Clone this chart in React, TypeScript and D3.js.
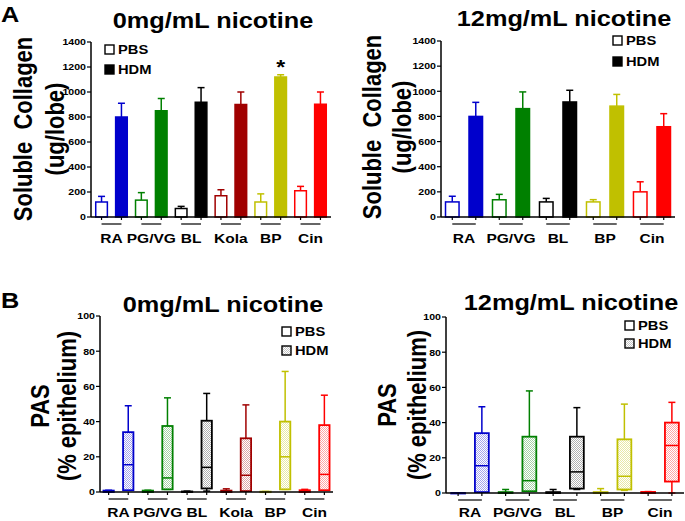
import React from "react";
import * as d3 from "d3";

// ---------- DATA ----------
const catsA1 = ["RA", "PG/VG", "BL", "Kola", "BP", "Cin"];
const colorsA1 = ["#0000CC", "#008000", "#000000", "#A00000", "#C0C000", "#FF0000"];
const pbsA1 = [120, 135, 68, 170, 120, 210];
const pbsErrA1 = [45, 60, 17, 48, 65, 35];
const hdmA1 = [800, 850, 918, 900, 1120, 902];
const hdmErrA1 = [110, 98, 117, 100, 18, 98];

const catsA2 = ["RA", "PG/VG", "BL", "BP", "Cin"];
const colorsA2 = ["#0000CC", "#008000", "#000000", "#C0C000", "#FF0000"];
const pbsA2 = [120, 137, 120, 120, 200];
const pbsErrA2 = [45, 43, 28, 18, 80];
const hdmA2 = [800, 862, 915, 882, 718];
const hdmErrA2 = [112, 133, 93, 93, 104];

const ticksA = [0, 200, 400, 600, 800, 1000, 1200, 1400];
const ticksB = [0, 20, 40, 60, 80, 100];

// box stats: [min, q1, median, q3, max]
const pbsB1 = [
  [0, 0, 0.3, 0.8, 1],
  [0, 0, 0.3, 0.8, 1],
  [0, 0, 0, 0.3, 0.5],
  [0, 0, 0.3, 0.8, 1.8],
  [0, 0, 0, 0.2, 0.3],
  [0, 0, 0.5, 1, 1.5],
];
const hdmB1 = [
  [1, 1, 15.5, 34, 49],
  [1.5, 1.5, 8, 37.5, 53.5],
  [0.5, 2, 14, 40.5, 56],
  [0.5, 0.5, 9.5, 30.5, 49.5],
  [1.5, 1.5, 20, 40, 68.5],
  [1, 1, 10, 38, 55],
];
const pbsB2 = [
  [0, 0, 0, 0, 0],
  [0, 0, 0.2, 0.5, 2],
  [0, 0, 0.2, 0.5, 2],
  [0, 0, 0.2, 0.5, 2.5],
  [0, 0, 0.3, 0.6, 0.8],
];
const hdmB2 = [
  [0.5, 0.5, 15.5, 34, 49],
  [1, 1, 7, 32, 58],
  [2, 2.5, 12, 32, 48.5],
  [1.5, 2, 9.5, 30.5, 50.5],
  [0, 6.5, 27, 40, 51.5],
];

const FONT = "'Liberation Sans', Arial, Helvetica, sans-serif";
const SX = 1.15;

function T({ x, y, size, anchor = "start", rot = false, baseline, children, fill = "#000" }: any) {
  return (
    <g transform={`translate(${x},${y}) scale(${SX},1)`}>
      <text
        transform={rot ? "rotate(-90)" : undefined}
        fontSize={size}
        fontWeight="bold"
        fontFamily={FONT}
        textAnchor={anchor}
        dominantBaseline={baseline}
        fill={fill}
        style={{ whiteSpace: "pre" }}
      >
        {children}
      </text>
    </g>
  );
}

function patId(c: string) {
  return "pat" + c.replace("#", "");
}

function Axes({ ax, xEnd, y, ticks, cats, xb, keysP, keysH, labDy }: any) {
  const y0 = y(0);
  return (
    <g>
      <line x1={ax} x2={ax} y1={y(ticks[ticks.length - 1])} y2={y0} stroke="#000" strokeWidth={1.5} />
      <line x1={ax} x2={xEnd} y1={y0} y2={y0} stroke="#000" strokeWidth={1.5} />
      {ticks.map((t: number) => (
        <g key={t}>
          <line x1={ax - 4} x2={ax} y1={y(t)} y2={y(t)} stroke="#000" strokeWidth={1.2} />
          <T x={ax - 5} y={y(t) + 3.3} size={9.2} anchor="end">{t}</T>
        </g>
      ))}
      {cats.map((c: string, i: number) => {
        const xp = xb(keysP[i]) + xb.bandwidth() / 2;
        const xh = xb(keysH[i]) + xb.bandwidth() / 2;
        return (
          <g key={c}>
            <line x1={xp} x2={xp} y1={y0} y2={y0 + 3} stroke="#000" strokeWidth={1.2} />
            <line x1={xh} x2={xh} y1={y0} y2={y0 + 3} stroke="#000" strokeWidth={1.2} />
            <line x1={xp} x2={xh} y1={y0 + 7} y2={y0 + 7} stroke="#000" strokeWidth={1.2} />
            <T x={(xp + xh) / 2} y={y0 + labDy} size={13.5} anchor="middle">{c}</T>
          </g>
        );
      })}
    </g>
  );
}

function BarPanel({ ax, xEnd, yTop, y0, cats, colors, pbs, pbsErr, hdm, hdmErr, pi, po, star }: any) {
  const y = d3.scaleLinear().domain([0, 1400]).range([y0, yTop]);
  const keysP = cats.map((c: string) => c + "_P");
  const keysH = cats.map((c: string) => c + "_H");
  const keys: string[] = [];
  cats.forEach((_: any, i: number) => keys.push(keysP[i], keysH[i]));
  const xb = d3.scaleBand().domain(keys).range([ax, xEnd]).paddingInner(pi).paddingOuter(po);
  const bw = xb.bandwidth();
  const bar = (k: string, v: number, e: number, col: string, filled: boolean) => {
    const x = xb(k)!;
    const cx = x + bw / 2;
    return (
      <g key={k}>
        <line x1={cx} x2={cx} y1={y(v)} y2={y(v + e)} stroke={col} strokeWidth={1.5} />
        <line x1={cx - 3.5} x2={cx + 3.5} y1={y(v + e)} y2={y(v + e)} stroke={col} strokeWidth={1.5} />
        <rect
          x={x + 0.75}
          y={y(v)}
          width={bw - 1.5}
          height={y0 - y(v)}
          fill={filled ? col : "#fff"}
          stroke={col}
          strokeWidth={1.5}
        />
      </g>
    );
  };
  return (
    <g>
      {cats.map((c: string, i: number) => (
        <g key={c}>
          {bar(keysP[i], pbs[i], pbsErr[i], colors[i], false)}
          {bar(keysH[i], hdm[i], hdmErr[i], colors[i], true)}
        </g>
      ))}
      {star !== undefined && (
        <T
          x={xb(keysH[star])! + bw / 2}
          y={y(hdm[star] + hdmErr[star]) - 1}
          size={20}
          anchor="middle"
        >
          *
        </T>
      )}
      <Axes ax={ax} xEnd={xEnd} y={y} ticks={ticksA} cats={cats} xb={xb} keysP={keysP} keysH={keysH} labDy={26} />
    </g>
  );
}

function BoxPanel({ ax, xEnd, yTop, y0, cats, colors, pbs, hdm, pi, po, labDy }: any) {
  const y = d3.scaleLinear().domain([0, 100]).range([y0, yTop]);
  const keysP = cats.map((c: string) => c + "_P");
  const keysH = cats.map((c: string) => c + "_H");
  const keys: string[] = [];
  cats.forEach((_: any, i: number) => keys.push(keysP[i], keysH[i]));
  const xb = d3.scaleBand().domain(keys).range([ax, xEnd]).paddingInner(pi).paddingOuter(po);
  const bw = xb.bandwidth();
  const box = (k: string, s: number[], col: string, filled: boolean) => {
    const x = xb(k)!;
    const cx = x + bw / 2;
    const [mn, q1, md, q3, mx] = s;
    return (
      <g key={k}>
        <line x1={cx} x2={cx} y1={y(q3)} y2={y(mx)} stroke={col} strokeWidth={1.5} />
        <line x1={cx} x2={cx} y1={y(q1)} y2={y(mn)} stroke={col} strokeWidth={1.5} />
        <line x1={cx - 3.5} x2={cx + 3.5} y1={y(mx)} y2={y(mx)} stroke={col} strokeWidth={1.5} />
        <line x1={cx - 3.5} x2={cx + 3.5} y1={y(mn)} y2={y(mn)} stroke={col} strokeWidth={1.5} />
        <rect
          x={x + 0.9}
          y={y(q3)}
          width={bw - 1.8}
          height={Math.max(0.5, y(q1) - y(q3))}
          fill={filled ? `url(#${patId(col)})` : "#fff"}
          stroke={col}
          strokeWidth={1.8}
        />
        <line x1={x + 0.9} x2={x + bw - 0.9} y1={y(md)} y2={y(md)} stroke={col} strokeWidth={1.5} />
      </g>
    );
  };
  return (
    <g>
      {cats.map((c: string, i: number) => (
        <g key={c}>
          {box(keysP[i], pbs[i], colors[i], false)}
          {box(keysH[i], hdm[i], colors[i], true)}
        </g>
      ))}
      <Axes ax={ax} xEnd={xEnd} y={y} ticks={ticksB} cats={cats} xb={xb} keysP={keysP} keysH={keysH} labDy={labDy} />
    </g>
  );
}

function Legend({ x, y1, y2, hdmFill }: any) {
  return (
    <g>
      <rect x={x} y={y1} width={9} height={9} fill="#fff" stroke="#000" strokeWidth={1.4} />
      <T x={x + 13} y={y1 + 9} size={12.8}>PBS</T>
      <rect x={x} y={y2} width={9} height={9} fill={hdmFill} stroke="#000" strokeWidth={1.4} />
      <T x={x + 13} y={y2 + 9} size={12.8}>HDM</T>
    </g>
  );
}

export default function App() {
  const patColors = Array.from(new Set([...colorsA1, "#555555"]));
  return (
    <svg
      width={685}
      height={521}
      style={{ position: "absolute", left: 0, top: 0, background: "#fff" }}
    >
      <defs>
        {patColors.map((c) => (
          <pattern key={c} id={patId(c)} width={2} height={2} patternUnits="userSpaceOnUse">
            <rect width={2} height={2} fill="#fff" />
            <rect width={1} height={1} fill={c} opacity={c === "#000000" ? 0.3 : 0.35} />
            <rect x={1} y={1} width={1} height={1} fill={c} opacity={c === "#000000" ? 0.3 : 0.35} />
          </pattern>
        ))}
      </defs>
      <rect width={685} height={521} fill="#fff" />

      {/* Panel labels */}
      <T x={1} y={22} size={22}>A</T>
      <T x={1} y={308} size={22}>B</T>

      {/* Titles */}
      <T x={213} y={28} size={22} anchor="middle">0mg/mL nicotine</T>
      <T x={564} y={26} size={22} anchor="middle">12mg/mL nicotine</T>
      <T x={223} y={312} size={22} anchor="middle">0mg/mL nicotine</T>
      <T x={571} y={310} size={22} anchor="middle">12mg/mL nicotine</T>

      {/* Y titles */}
      <T x={23} y={129} size={22} anchor="middle" rot baseline="central">Soluble  Collagen</T>
      <T x={55} y={129} size={22} anchor="middle" rot baseline="central">(ug/lobe)</T>
      <T x={372} y={127} size={22} anchor="middle" rot baseline="central">Soluble  Collagen</T>
      <T x={402} y={127} size={22} anchor="middle" rot baseline="central">(ug/lobe)</T>
      <T x={40} y={406} size={22} anchor="middle" rot baseline="central">PAS</T>
      <T x={67} y={406} size={22} anchor="middle" rot baseline="central">(% epithelium)</T>
      <T x={387} y={405} size={22} anchor="middle" rot baseline="central">PAS</T>
      <T x={417} y={405} size={22} anchor="middle" rot baseline="central">(% epithelium)</T>

      <BarPanel ax={91} xEnd={331} yTop={42} y0={217} cats={catsA1} colors={colorsA1}
        pbs={pbsA1} pbsErr={pbsErrA1} hdm={hdmA1} hdmErr={hdmErrA1} pi={0.34} po={0.2} star={4} />
      <BarPanel ax={441} xEnd={675} yTop={41} y0={217} cats={catsA2} colors={colorsA2}
        pbs={pbsA2} pbsErr={pbsErrA2} hdm={hdmA2} hdmErr={hdmErrA2} pi={0.36} po={0.16} />
      <BoxPanel ax={100} xEnd={333} yTop={316} y0={492} cats={catsA1} colors={colorsA1}
        pbs={pbsB1} hdm={hdmB1} pi={0.38} po={0.13} labDy={25} />
      <BoxPanel ax={446} xEnd={684} yTop={317} y0={493} cats={catsA2} colors={colorsA2}
        pbs={pbsB2} hdm={hdmB2} pi={0.34} po={0.18} labDy={24} />

      <Legend x={105} y1={45} y2={65} hdmFill="#000" />
      <Legend x={613} y1={36} y2={57} hdmFill="#000" />
      <Legend x={282} y1={327} y2={346} hdmFill={`url(#${patId("#555555")})`} />
      <Legend x={625} y1={321} y2={339} hdmFill={`url(#${patId("#555555")})`} />
    </svg>
  );
}
